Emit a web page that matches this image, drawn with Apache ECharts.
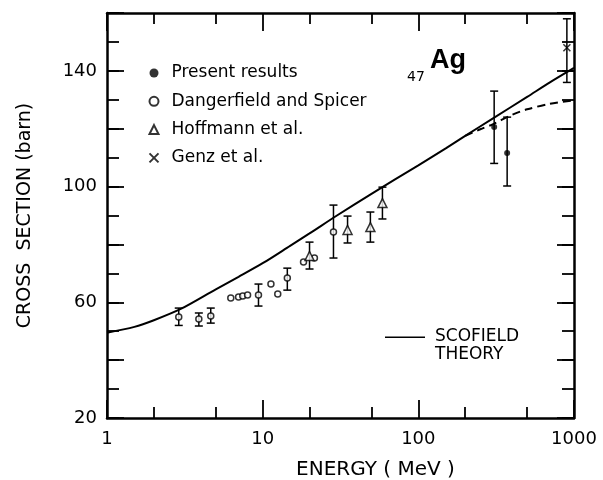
<!DOCTYPE html>
<html>
<head>
<meta charset="utf-8">
<script src="https://cdn.jsdelivr.net/npm/echarts@6/dist/echarts.min.js"></script>
<style>
  html, body { margin: 0; padding: 0; background: #fff; }
  #main { width: 603px; height: 480px; }
</style>
</head>
<body>
<div id="main"></div>
<script>
// Scofield theory (solid) and its high-energy variant (dashed)
const theoryE  = [1, 1.5, 2, 3, 5, 7, 10, 15, 20, 30, 50, 70, 100, 150, 200, 300, 500, 700, 1000];
const theoryXS = [49.5, 51.5, 53.8, 57.8, 64.5, 68.8, 73.5, 79.5, 83.8, 90, 97.5, 102.3, 107.3, 113.2, 117.5, 123.5, 131, 136, 141];
const dashE  = [200, 250, 300, 400, 500, 700, 1000];
const dashXS = [117.5, 119.8, 121.5, 124.8, 126.7, 128.6, 129.8];

// Present results
const presentE  = [307, 372];
const presentXS = [120.6, 111.6];
const presentLo = [108, 100.2];
const presentHi = [133, 124];

// Dangerfield and Spicer
const dangerE  = [2.89, 3.89, 4.64, 6.24, 7.0, 7.45, 8.0, 9.4, 11.3, 12.5, 14.4, 18.3, 21.5, 28.5];
const dangerXS = [54.9, 54.2, 55.3, 61.5, 61.8, 62.2, 62.5, 62.5, 66.3, 62.9, 68.4, 73.9, 75.3, 84.3];
const dangerLo = [52, 51.8, 52.8, null, null, null, null, 58.7, null, null, 64.2, null, null, 75.3];
const dangerHi = [58, 56.3, 58, null, null, null, null, 66.3, null, null, 71.8, null, null, 93.6];

// Hoffmann et al.
const hoffE  = [20.0, 35.1, 49.2, 58.8];
const hoffXS = [76.0, 85.0, 86.0, 94.3];
const hoffLo = [71.5, 80.5, 80.8, 88.8];
const hoffHi = [80.8, 89.8, 91.2, 99.8];

// Genz et al.
const genzE  = [900];
const genzXS = [148];
const genzLo = [136];
const genzHi = [158];

// axis ticks
const yLabels = [20, 60, 100, 140];
const xMinorTicks = [2, 5, 20, 50, 200, 500];

const FONT = 'DejaVu Sans';

function pts(xs, ys) { return xs.map((x, i) => [x, ys[i]]); }
function bars(xs, lo, hi) {
  const out = [];
  xs.forEach((x, i) => { if (lo[i] != null) out.push([x, lo[i], hi[i]]); });
  return out;
}

const errData = []
  .concat(bars(presentE, presentLo, presentHi))
  .concat(bars(dangerE, dangerLo, dangerHi))
  .concat(bars(hoffE, hoffLo, hoffHi))
  .concat(bars(genzE, genzLo, genzHi));

const chart = echarts.init(document.getElementById('main'), null, { renderer: 'canvas' });

const frameLine = { show: true, onZero: false, lineStyle: { color: '#000', width: 2.5 } };
const noLine = { show: false, onZero: false };
const tickStyle = { color: '#000', width: 1.8 };

// y: long ticks every 20 (with labels on the left), short ticks every 10
function yMajor(pos, labels) {
  return {
    type: 'value', position: pos, min: 20, max: 160, interval: 20,
    axisLine: frameLine,
    axisTick: { show: true, inside: true, length: 17, lineStyle: tickStyle },
    splitLine: { show: false },
    axisLabel: {
      show: labels, color: '#000', fontFamily: FONT, fontSize: 18, margin: 10,
      formatter: v => yLabels.includes(v) ? String(v) : ''
    },
    name: labels ? 'CROSS  SECTION (barn)' : '',
    nameLocation: 'middle', nameGap: 72, nameRotate: 90,
    nameTextStyle: { color: '#000', fontFamily: FONT, fontSize: 19 }
  };
}
function yMinor(pos) {
  return {
    type: 'value', position: pos, min: 20, max: 160, interval: 10,
    axisLine: noLine,
    axisTick: { show: true, inside: true, length: 12, lineStyle: tickStyle },
    splitLine: { show: false },
    axisLabel: { show: false }
  };
}

function xMajor(pos, labels) {
  return {
    type: 'log', logBase: 10, min: 1, max: 1000, position: pos,
    axisLine: frameLine,
    axisTick: { show: true, inside: true, length: 18, lineStyle: tickStyle },
    splitLine: { show: false },
    axisLabel: {
      show: labels, color: '#000', fontFamily: FONT, fontSize: 18, margin: 12,
      formatter: v => String(v)
    },
    name: labels ? 'ENERGY ( MeV )' : '',
    nameLocation: 'middle', nameGap: 42,
    nameTextStyle: { color: '#000', fontFamily: FONT, fontSize: 20, padding: [0, 0, 0, 70] }
  };
}
function xMinor(pos) {
  return {
    type: 'value', min: 0, max: 3, position: pos,
    axisLine: noLine,
    axisTick: { show: true, inside: true, length: 11, lineStyle: tickStyle,
                customValues: xMinorTicks.map(v => Math.log10(v)) },
    axisLabel: { show: false },
    splitLine: { show: false }
  };
}

const option = {
  backgroundColor: '#fff',
  animation: false,
  grid: { left: 107, right: 29, top: 13, bottom: 62, containLabel: false, outerBoundsMode: 'none' },
  title: [
    { text: 'Ag', left: 430, top: 47, padding: 0,
      textStyle: { fontFamily: 'Liberation Sans', fontSize: 27, fontWeight: 'bold', color: '#000' } },
    { text: '47', left: 407, top: 70, padding: 0,
      textStyle: { fontFamily: FONT, fontSize: 14, fontWeight: 'normal', color: '#000' } }
  ],
  legend: [
    {
      orient: 'vertical', left: 142, top: 59, itemWidth: 9, itemHeight: 9, itemGap: 10.3,
      textStyle: { fontFamily: FONT, fontSize: 17, color: '#000', lineHeight: 18, padding: [0, 0, 0, 8] },
      data: ['Present results', 'Dangerfield and Spicer', 'Hoffmann et al.', 'Genz et al.'],
      selectedMode: false
    },
    {
      orient: 'vertical', left: 380, top: 323, itemWidth: 40, itemHeight: 26,
      textStyle: { fontFamily: FONT, fontSize: 17, color: '#000', lineHeight: 18, padding: [0, 0, 0, 5] },
      data: [{ name: 'SCOFIELD\nTHEORY', icon: 'path://M0,0H40V1.5H0Z M0,19H0.1V19.1H0Z' }],
      selectedMode: false
    }
  ],
  xAxis: [xMajor('bottom', true), xMinor('bottom'), xMajor('top', false), xMinor('top')],
  yAxis: [yMajor('left', true), yMinor('left'), yMajor('right', false), yMinor('right')],
  series: [
    {
      name: 'SCOFIELD\nTHEORY', type: 'line', xAxisIndex: 0, yAxisIndex: 0,
      data: pts(theoryE, theoryXS), smooth: 0.3, symbol: 'none',
      itemStyle: { color: '#000' },
      lineStyle: { color: '#000', width: 2 }, z: 2
    },
    {
      name: 'dashed', type: 'line', xAxisIndex: 0, yAxisIndex: 0,
      data: pts(dashE, dashXS), smooth: 0.3, symbol: 'none',
      itemStyle: { color: '#000' },
      lineStyle: { color: '#000', width: 2, type: [8, 5] }, z: 2
    },
    {
      name: 'errors', type: 'custom', xAxisIndex: 0, yAxisIndex: 0,
      data: errData, encode: { x: 0, y: [1, 2] }, z: 3,
      renderItem: (params, api) => {
        const lo = api.coord([api.value(0), api.value(1)]);
        const hi = api.coord([api.value(0), api.value(2)]);
        const w = 4;
        const st = { stroke: '#000', lineWidth: 1.5 };
        return {
          type: 'group', children: [
            { type: 'line', shape: { x1: lo[0], y1: lo[1], x2: hi[0], y2: hi[1] }, style: st },
            { type: 'line', shape: { x1: lo[0] - w, y1: lo[1], x2: lo[0] + w, y2: lo[1] }, style: st },
            { type: 'line', shape: { x1: hi[0] - w, y1: hi[1], x2: hi[0] + w, y2: hi[1] }, style: st }
          ]
        };
      }
    },
    {
      name: 'Present results', type: 'scatter', xAxisIndex: 0, yAxisIndex: 0,
      data: pts(presentE, presentXS), symbol: 'circle', symbolSize: 6,
      itemStyle: { color: '#000' }, z: 5
    },
    {
      name: 'Dangerfield and Spicer', type: 'scatter', xAxisIndex: 0, yAxisIndex: 0,
      data: pts(dangerE, dangerXS), symbol: 'circle', symbolSize: 6,
      itemStyle: { color: '#fff', borderColor: '#000', borderWidth: 1.5 }, z: 5
    },
    {
      name: 'Hoffmann et al.', type: 'scatter', xAxisIndex: 0, yAxisIndex: 0,
      data: pts(hoffE, hoffXS), symbol: 'triangle', symbolSize: 9,
      itemStyle: { color: '#fff', borderColor: '#000', borderWidth: 1.5 }, z: 5
    },
    {
      name: 'Genz et al.', type: 'scatter', xAxisIndex: 0, yAxisIndex: 0,
      data: pts(genzE, genzXS), symbol: 'path://M0,0L10,10M10,0L0,10', symbolSize: 7,
      itemStyle: { color: 'none', borderColor: '#000', borderWidth: 1.5 }, z: 5
    }
  ]
};

chart.setOption(option);
</script>
</body>
</html>
